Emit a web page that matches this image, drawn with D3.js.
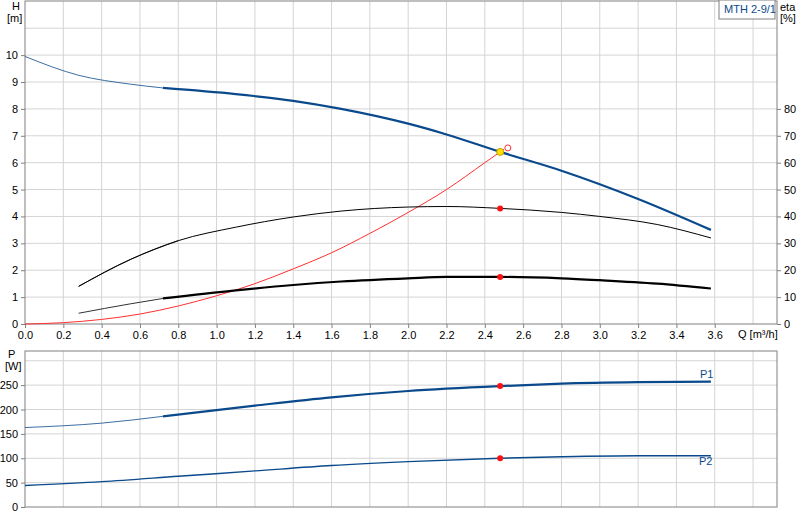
<!DOCTYPE html><html><head><meta charset="utf-8"><script src="https://cdn.jsdelivr.net/npm/d3@7"></script>
<style>body{margin:0;background:#fff}text{font-family:"Liberation Sans",Arial,sans-serif;font-size:11px;fill:#000}</style></head><body><svg id="c" width="800" height="520"></svg><script>
const qTicks=[0,0.2,0.4,0.6,0.8,1.0,1.2,1.4,1.6,1.8,2.0,2.2,2.4,2.6,2.8,3.0,3.2,3.4,3.6];
const hTicks=[0,1,2,3,4,5,6,7,8,9,10];
const etaTicks=[0,10,20,30,40,50,60,70,80];
const pTicks=[0,50,100,150,200,250];
const H=[[0,9.95],[0.28,9.25],[0.55,8.92],[0.72,8.78],[1.1,8.55],[1.4,8.3],[1.65,8.0],[2.0,7.45],[2.2,7.05],[2.48,6.4],[2.8,5.7],[3.2,4.65],[3.58,3.5]];
const ETA=[[0.28,14],[0.55,24],[0.8,31],[1.1,36],[1.4,39.8],[1.65,42],[2.0,43.5],[2.2,43.7],[2.48,43],[2.8,41.5],[3.0,40],[3.3,37],[3.58,32]];
const NPSH=[[0.28,0.4],[0.55,0.75],[0.72,0.95],[1.1,1.25],[1.4,1.45],[1.65,1.58],[2.0,1.7],[2.2,1.75],[2.48,1.75],[2.8,1.7],[3.0,1.63],[3.3,1.5],[3.58,1.32]];
const SYS=[[0,0],[0.2,0.05],[0.4,0.17],[0.6,0.37],[0.8,0.67],[1.0,1.05],[1.2,1.5],[1.4,2.05],[1.6,2.65],[1.8,3.37],[2.0,4.15],[2.2,5.0],[2.4,6.0],[2.5,6.5]];
const P1=[[0,163],[0.4,172],[0.72,186],[1.2,208],[1.6,225],[2.0,238],[2.48,248],[2.8,253],[3.2,256],[3.58,257]];
const P2=[[0,44],[0.4,52],[0.8,63],[1.2,74],[1.6,85],[2.0,93],[2.48,100],[2.8,103],[3.2,105],[3.58,105]];
const dutyQ=2.48, thinEnd=0.72;
const svg=d3.select("#c");
const L=25,R=777;
const x=d3.scaleLinear().domain([0,3.925]).range([L,R]);
const yH=d3.scaleLinear().domain([0,12.05]).range([324,0]);
const yE=d3.scaleLinear().domain([0,120.5]).range([324,0]);
const yP=d3.scaleLinear().domain([0,320]).range([507,351]);
const grid="#d4d4d4",ax="#808080";
function panel(y,top,bot,hgrid){
  const g=svg.append("g");
  d3.range(0.2,3.81,0.2).forEach(q=>g.append("line").attr("x1",x(q)).attr("x2",x(q)).attr("y1",top).attr("y2",bot).attr("stroke",grid));
  hgrid.forEach(v=>g.append("line").attr("x1",L).attr("x2",R).attr("y1",y(v)).attr("y2",y(v)).attr("stroke",grid));
  g.append("rect").attr("x",L).attr("y",top).attr("width",R-L).attr("height",bot-top).attr("fill","none").attr("stroke",ax);
}
panel(yH,1,324,[1,2,3,4,5,6,7,8,9,10,11]);
panel(yP,351,507,[50,100,150,200,250,300]);
function axisStyle(g){g.attr("font-family",null);g.selectAll("path").attr("stroke",ax);g.selectAll("line").attr("stroke",ax);g.selectAll("text").style("font-size","11px").style("font-family","'Liberation Sans',Arial,sans-serif");}
svg.append("g").attr("transform",`translate(${L},0)`).call(d3.axisLeft(yH).tickValues(hTicks).tickSize(4).tickSizeOuter(0)).call(axisStyle).select(".domain").remove();
svg.append("g").attr("transform",`translate(${R},0)`).call(d3.axisRight(yE).tickValues(etaTicks).tickSize(4).tickSizeOuter(0)).call(axisStyle).select(".domain").remove();
svg.append("g").attr("transform",`translate(0,324)`).call(d3.axisBottom(x).tickValues(qTicks).tickFormat(d3.format(".1f")).tickSize(4)).call(axisStyle).select(".domain").remove();
svg.append("g").attr("transform",`translate(${L},0)`).call(d3.axisLeft(yP).tickValues(pTicks).tickSize(4)).call(axisStyle).select(".domain").remove();
const t=(s,xx,yy,o={})=>svg.append("text").attr("x",xx).attr("y",yy).attr("text-anchor",o.a||"start").style("fill",o.c||"#000").text(s);
t("H",12,10);t("[m]",7,22);t("eta",780,11);t("[%]",780,22);t("Q [m³/h]",738,338);
t("P",8,358);t("[W]",5,370);
svg.append("rect").attr("x",719).attr("y",0).attr("width",56).attr("height",19).attr("fill","#fff").attr("stroke",ax);
t("MTH 2-9/1",724,13,{c:"#0a4a8c"});
const line=(y)=>d3.line().x(d=>x(d[0])).y(d=>y(d[1])).curve(d3.curveMonotoneX);
function curve(data,y,col,thin){
  let i=data.findIndex(d=>d[0]>=thinEnd);
  const a=data.slice(0,i+1), b=data.slice(i);
  if(a.length>1) svg.append("path").attr("d",line(y)(a)).attr("fill","none").attr("stroke",col).attr("stroke-width",1).attr("opacity",0.8);
  svg.append("path").attr("d",line(y)(thin?data:b)).attr("fill","none").attr("stroke",col).attr("stroke-width",thin?1:2.2);
}
svg.append("path").attr("d",line(yH)(SYS)).attr("fill","none").attr("stroke","#ff3030").attr("stroke-width",1);
curve(H,yH,"#0a4a8c");
curve(ETA,yE,"#000",true);
curve(NPSH,yH,"#000");
curve(P1,yP,"#0a4a8c");
svg.append("path").attr("d",line(yP)(P2)).attr("fill","none").attr("stroke","#0a4a8c").attr("stroke-width",1.4);
svg.append("circle").attr("cx",x(2.52)).attr("cy",yH(6.55)).attr("r",3).attr("fill","none").attr("stroke","#ff3030");
svg.append("circle").attr("cx",x(dutyQ)).attr("cy",yH(6.4)).attr("r",3.5).attr("fill","#ffe000").attr("stroke","#c0a000");
[[yE,43],[yH,1.75],[yP,248],[yP,100]].forEach(([y,v])=>svg.append("circle").attr("cx",x(dutyQ)).attr("cy",y(v)).attr("r",3).attr("fill","#ff1010"));
t("P1",700,378,{c:"#0a4a8c"});t("P2",699,465,{c:"#0a4a8c"});
</script></body></html>
